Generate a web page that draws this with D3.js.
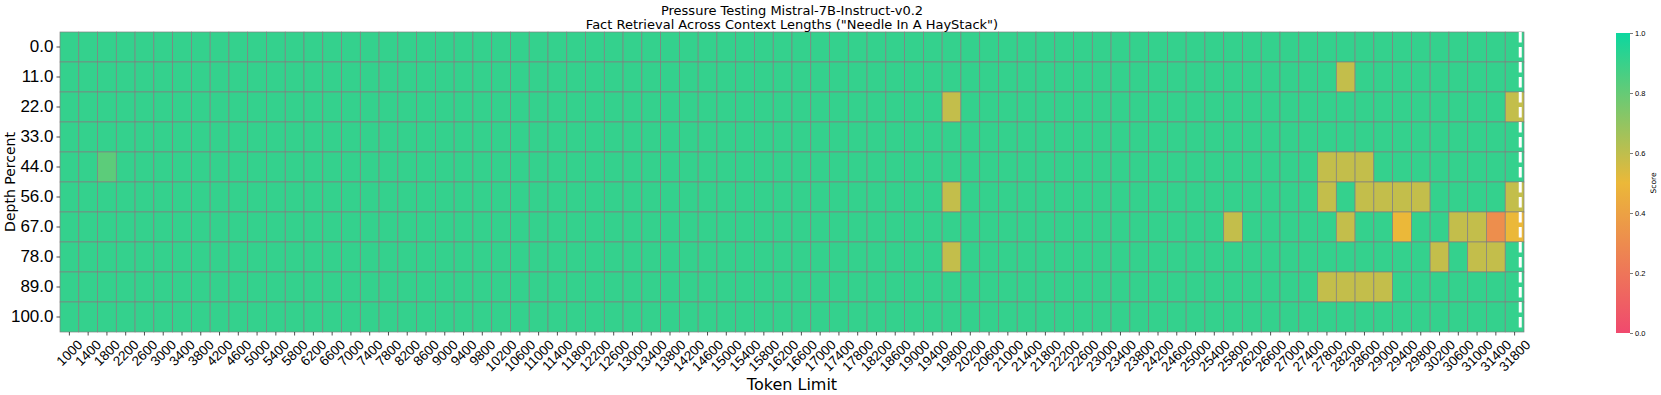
<!DOCTYPE html>
<html>
<head>
<meta charset="utf-8">
<script src="https://cdn.jsdelivr.net/npm/d3@7"></script>
<style>
  body { margin: 0; background: #fff; }
  svg { display: block; font-family: "DejaVu Sans", sans-serif; }
</style>
</head>
<body>
<svg id="chart" width="1661" height="395"></svg>
<script>
// token limits along the x axis (one column each)
var tokenLimits = [1000, 1400, 1800, 2200, 2600, 3000, 3400, 3800, 4200, 4600,
  5000, 5400, 5800, 6200, 6600, 7000, 7400, 7800, 8200, 8600,
  9000, 9400, 9800, 10200, 10600, 11000, 11400, 11800, 12200, 12600,
  13000, 13400, 13800, 14200, 14600, 15000, 15400, 15800, 16200, 16600,
  17000, 17400, 17800, 18200, 18600, 19000, 19400, 19800, 20200, 20600,
  21000, 21400, 21800, 22200, 22600, 23000, 23400, 23800, 24200, 24600,
  25000, 25400, 25800, 26200, 26600, 27000, 27400, 27800, 28200, 28600,
  29000, 29400, 29800, 30200, 30600, 31000, 31400, 31800];

// needle depth percent (one row each)
var depthPercents = [0, 11, 22, 33, 44, 56, 67, 78, 89, 100];

// score per row (depth) and column (token limit)
var scores = [
  [0.91,0.91,0.91,0.91,0.91,0.91,0.91,0.91,0.91,0.91, 0.91,0.91,0.91,0.91,0.91,0.91,0.91,0.91,0.91,0.91, 0.91,0.91,0.91,0.91,0.91,0.91,0.91,0.91,0.91,0.91, 0.91,0.91,0.91,0.91,0.91,0.91,0.91,0.91,0.91,0.91, 0.91,0.91,0.91,0.91,0.91,0.91,0.91,0.91,0.91,0.91, 0.91,0.91,0.91,0.91,0.91,0.91,0.91,0.91,0.91,0.91, 0.91,0.91,0.91,0.91,0.91,0.91,0.91,0.91,0.91,0.91, 0.91,0.91,0.91,0.91,0.91,0.91,0.91,0.91],
  [0.91,0.91,0.91,0.91,0.91,0.91,0.91,0.91,0.91,0.91, 0.91,0.91,0.91,0.91,0.91,0.91,0.91,0.91,0.91,0.91, 0.91,0.91,0.91,0.91,0.91,0.91,0.91,0.91,0.91,0.91, 0.91,0.91,0.91,0.91,0.91,0.91,0.91,0.91,0.91,0.91, 0.91,0.91,0.91,0.91,0.91,0.91,0.91,0.91,0.91,0.91, 0.91,0.91,0.91,0.91,0.91,0.91,0.91,0.91,0.91,0.91, 0.91,0.91,0.91,0.91,0.91,0.91,0.91,0.91,0.59,0.91, 0.91,0.91,0.91,0.91,0.91,0.91,0.91,0.91],
  [0.91,0.91,0.91,0.91,0.91,0.91,0.91,0.91,0.91,0.91, 0.91,0.91,0.91,0.91,0.91,0.91,0.91,0.91,0.91,0.91, 0.91,0.91,0.91,0.91,0.91,0.91,0.91,0.91,0.91,0.91, 0.91,0.91,0.91,0.91,0.91,0.91,0.91,0.91,0.91,0.91, 0.91,0.91,0.91,0.91,0.91,0.91,0.91,0.59,0.91,0.91, 0.91,0.91,0.91,0.91,0.91,0.91,0.91,0.91,0.91,0.91, 0.91,0.91,0.91,0.91,0.91,0.91,0.91,0.91,0.91,0.91, 0.91,0.91,0.91,0.91,0.91,0.91,0.91,0.59],
  [0.91,0.91,0.91,0.91,0.91,0.91,0.91,0.91,0.91,0.91, 0.91,0.91,0.91,0.91,0.91,0.91,0.91,0.91,0.91,0.91, 0.91,0.91,0.91,0.91,0.91,0.91,0.91,0.91,0.91,0.91, 0.91,0.91,0.91,0.91,0.91,0.91,0.91,0.91,0.91,0.91, 0.91,0.91,0.91,0.91,0.91,0.91,0.91,0.91,0.91,0.91, 0.91,0.91,0.91,0.91,0.91,0.91,0.91,0.91,0.91,0.91, 0.91,0.91,0.91,0.91,0.91,0.91,0.91,0.91,0.91,0.91, 0.91,0.91,0.91,0.91,0.91,0.91,0.91,0.91],
  [0.91,0.91,0.82,0.91,0.91,0.91,0.91,0.91,0.91,0.91, 0.91,0.91,0.91,0.91,0.91,0.91,0.91,0.91,0.91,0.91, 0.91,0.91,0.91,0.91,0.91,0.91,0.91,0.91,0.91,0.91, 0.91,0.91,0.91,0.91,0.91,0.91,0.91,0.91,0.91,0.91, 0.91,0.91,0.91,0.91,0.91,0.91,0.91,0.91,0.91,0.91, 0.91,0.91,0.91,0.91,0.91,0.91,0.91,0.91,0.91,0.91, 0.91,0.91,0.91,0.91,0.91,0.91,0.91,0.59,0.59,0.59, 0.91,0.91,0.91,0.91,0.91,0.91,0.91,0.91],
  [0.91,0.91,0.91,0.91,0.91,0.91,0.91,0.91,0.91,0.91, 0.91,0.91,0.91,0.91,0.91,0.91,0.91,0.91,0.91,0.91, 0.91,0.91,0.91,0.91,0.91,0.91,0.91,0.91,0.91,0.91, 0.91,0.91,0.91,0.91,0.91,0.91,0.91,0.91,0.91,0.91, 0.91,0.91,0.91,0.91,0.91,0.91,0.91,0.59,0.91,0.91, 0.91,0.91,0.91,0.91,0.91,0.91,0.91,0.91,0.91,0.91, 0.91,0.91,0.91,0.91,0.91,0.91,0.91,0.59,0.91,0.59, 0.59,0.59,0.59,0.91,0.91,0.91,0.91,0.59],
  [0.91,0.91,0.91,0.91,0.91,0.91,0.91,0.91,0.91,0.91, 0.91,0.91,0.91,0.91,0.91,0.91,0.91,0.91,0.91,0.91, 0.91,0.91,0.91,0.91,0.91,0.91,0.91,0.91,0.91,0.91, 0.91,0.91,0.91,0.91,0.91,0.91,0.91,0.91,0.91,0.91, 0.91,0.91,0.91,0.91,0.91,0.91,0.91,0.91,0.91,0.91, 0.91,0.91,0.91,0.91,0.91,0.91,0.91,0.91,0.91,0.91, 0.91,0.91,0.59,0.91,0.91,0.91,0.91,0.91,0.59,0.91, 0.91,0.50,0.91,0.91,0.59,0.59,0.31,0.50],
  [0.91,0.91,0.91,0.91,0.91,0.91,0.91,0.91,0.91,0.91, 0.91,0.91,0.91,0.91,0.91,0.91,0.91,0.91,0.91,0.91, 0.91,0.91,0.91,0.91,0.91,0.91,0.91,0.91,0.91,0.91, 0.91,0.91,0.91,0.91,0.91,0.91,0.91,0.91,0.91,0.91, 0.91,0.91,0.91,0.91,0.91,0.91,0.91,0.59,0.91,0.91, 0.91,0.91,0.91,0.91,0.91,0.91,0.91,0.91,0.91,0.91, 0.91,0.91,0.91,0.91,0.91,0.91,0.91,0.91,0.91,0.91, 0.91,0.91,0.91,0.59,0.91,0.59,0.59,0.91],
  [0.91,0.91,0.91,0.91,0.91,0.91,0.91,0.91,0.91,0.91, 0.91,0.91,0.91,0.91,0.91,0.91,0.91,0.91,0.91,0.91, 0.91,0.91,0.91,0.91,0.91,0.91,0.91,0.91,0.91,0.91, 0.91,0.91,0.91,0.91,0.91,0.91,0.91,0.91,0.91,0.91, 0.91,0.91,0.91,0.91,0.91,0.91,0.91,0.91,0.91,0.91, 0.91,0.91,0.91,0.91,0.91,0.91,0.91,0.91,0.91,0.91, 0.91,0.91,0.91,0.91,0.91,0.91,0.91,0.59,0.59,0.59, 0.59,0.91,0.91,0.91,0.91,0.91,0.91,0.91],
  [0.91,0.91,0.91,0.91,0.91,0.91,0.91,0.91,0.91,0.91, 0.91,0.91,0.91,0.91,0.91,0.91,0.91,0.91,0.91,0.91, 0.91,0.91,0.91,0.91,0.91,0.91,0.91,0.91,0.91,0.91, 0.91,0.91,0.91,0.91,0.91,0.91,0.91,0.91,0.91,0.91, 0.91,0.91,0.91,0.91,0.91,0.91,0.91,0.91,0.91,0.91, 0.91,0.91,0.91,0.91,0.91,0.91,0.91,0.91,0.91,0.91, 0.91,0.91,0.91,0.91,0.91,0.91,0.91,0.91,0.91,0.91, 0.91,0.91,0.91,0.91,0.91,0.91,0.91,0.91]
];

// colour bar ticks and the colour map stops
var scoreTicks = [0, 0.2, 0.4, 0.6, 0.8, 1.0];
var cmapStops = [0, 0.5, 1];
var cmapColors = ["#F0496E", "#EBB839", "#0CD79F"];

var titleLines = ["Pressure Testing Mistral-7B-Instruct-v0.2",
  "Fact Retrieval Across Context Lengths (\"Needle In A HayStack\")"];

function main()
{
  var svg = d3.select("#chart");

  // plot area
  var left = 60, right = 1524, top = 32, bottom = 332;
  var tickLen = 3.5;
  var yTickFont = 17;
  var xTickFont = 13.5;

  var x = d3.scaleBand().domain(tokenLimits).range([left, right]).padding(0);
  var y = d3.scaleBand().domain(depthPercents).range([top, bottom]).padding(0);
  var color = d3.scaleLinear().domain(cmapStops).range(cmapColors).interpolate(d3.interpolateRgb);

  // flatten the matrix into one cell per (depth, token) pair
  var cells = [];
  depthPercents.forEach(function (d, r) {
    tokenLimits.forEach(function (t, c) {
      cells.push({ depth: d, token: t, score: scores[r][c] });
    });
  });

  svg.append("g")
    .attr("class", "cells")
    .selectAll("rect")
    .data(cells)
    .enter()
    .append("rect")
    .attr("x", function (d) { return x(d.token); })
    .attr("y", function (d) { return y(d.depth); })
    .attr("width", x.bandwidth())
    .attr("height", y.bandwidth())
    .attr("fill", function (d) { return color(d.score); })
    .attr("stroke", "#808080")
    .attr("stroke-width", 0.7);

  // white dashed marker near the last column
  var markX = x(tokenLimits[tokenLimits.length - 1]) + x.bandwidth() * 0.8;
  svg.append("line")
    .attr("x1", markX).attr("x2", markX)
    .attr("y1", top).attr("y2", bottom)
    .attr("stroke", "#fff")
    .attr("stroke-width", 3)
    .attr("stroke-dasharray", "10.5,4.5");

  // y axis
  var yAxis = svg.append("g")
    .attr("transform", "translate(" + left + ",0)")
    .call(d3.axisLeft(y).tickSize(tickLen).tickPadding(3)
      .tickFormat(function (d) { return d.toFixed(1); }));
  yAxis.select(".domain").remove();
  yAxis.selectAll("text").style("font-size", yTickFont + "px").attr("fill", "#000");
  yAxis.selectAll("line").attr("stroke", "#222").attr("stroke-width", 0.8);

  // x axis with labels turned 45 degrees, box centred under each tick
  var xAxis = svg.append("g")
    .attr("transform", "translate(0," + bottom + ")")
    .call(d3.axisBottom(x).tickSize(tickLen));
  xAxis.select(".domain").remove();
  xAxis.selectAll("line").attr("stroke", "#222").attr("stroke-width", 0.8);
  xAxis.selectAll("text")
    .style("font-size", xTickFont + "px")
    .attr("fill", "#000")
    .attr("text-anchor", "middle")
    .attr("y", 0)
    .attr("dy", "0.346em")
    .attr("transform", function () {
      var w = this.getComputedTextLength();
      var h = xTickFont * 0.9;
      var off = (w + h) / (2 * Math.SQRT2);
      return "translate(0," + (tickLen + 2.5 + off) + ") rotate(-45)";
    });

  // axis titles
  svg.append("text")
    .attr("x", (left + right) / 2)
    .attr("y", 390)
    .attr("text-anchor", "middle")
    .style("font-size", "16px")
    .text("Token Limit");

  svg.append("text")
    .attr("transform", "translate(15," + ((top + bottom) / 2) + ") rotate(-90)")
    .attr("text-anchor", "middle")
    .style("font-size", "14px")
    .text("Depth Percent");

  // chart title, two lines
  svg.append("g")
    .selectAll("text")
    .data(titleLines)
    .enter()
    .append("text")
    .attr("x", (left + right) / 2)
    .attr("y", function (d, i) { return 15 + i * 14; })
    .attr("text-anchor", "middle")
    .style("font-size", "13px")
    .text(function (d) { return d; });

  // colour bar
  var cbLeft = 1616, cbWidth = 14;
  var grad = svg.append("defs").append("linearGradient")
    .attr("id", "cbar")
    .attr("x1", 0).attr("y1", 1).attr("x2", 0).attr("y2", 0);
  grad.selectAll("stop")
    .data(cmapStops)
    .enter()
    .append("stop")
    .attr("offset", function (d) { return d; })
    .attr("stop-color", function (d, i) { return cmapColors[i]; });

  svg.append("rect")
    .attr("x", cbLeft).attr("y", top + 1)
    .attr("width", cbWidth).attr("height", bottom - top)
    .attr("fill", "url(#cbar)");

  var cbScale = d3.scaleLinear().domain([0, 1]).range([bottom + 1, top + 1]);
  var cbAxis = svg.append("g")
    .attr("transform", "translate(" + (cbLeft + cbWidth) + ",0)")
    .call(d3.axisRight(cbScale).tickValues(scoreTicks).tickSize(3).tickPadding(2)
      .tickFormat(d3.format(".1f")));
  cbAxis.select(".domain").remove();
  cbAxis.selectAll("text").style("font-size", "7.5px").attr("fill", "#000");
  cbAxis.selectAll("line").attr("stroke", "#222").attr("stroke-width", 0.6);

  svg.append("text")
    .attr("transform", "translate(1656," + ((top + bottom) / 2 + 1) + ") rotate(-90)")
    .attr("text-anchor", "middle")
    .style("font-size", "7.5px")
    .text("Score");
}

main();
</script>
</body>
</html>
